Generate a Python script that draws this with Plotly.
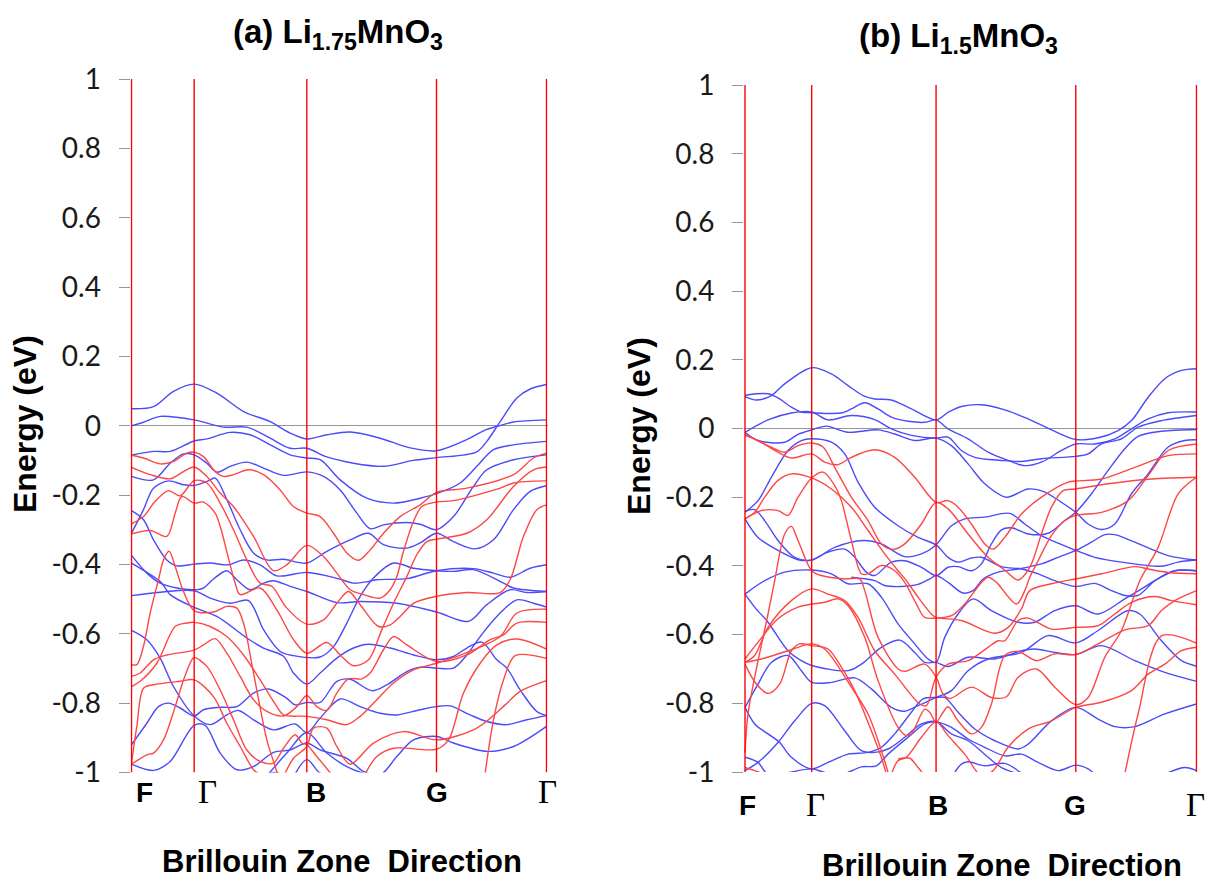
import plotly.graph_objects as go

# k-path positions of the high-symmetry points (arbitrary path units) and band energies (meV)
a_kpoints = [0, 188, 526, 915, 1245]
b_kpoints = [0, 200, 573, 992, 1354]
kpoint_labels = ["F", "Γ", "B", "G", "Γ"]
energy_ticks = [1, 0.8, 0.6, 0.4, 0.2, 0, -0.2, -0.4, -0.6, -0.8, -1]
energy_labels = ["1", "0.8", "0.6", "0.4", "0.2", "0", "-0.2", "-0.4", "-0.6", "-0.8", "-1"]

a_blue_1 = [(0,49),(66,55),(126,99),(188,120),(256,94),(336,41),(416,12),(476,-21),(526,-38),(586,-26),(656,-18),(746,-36),(836,-64),(915,-72),(1006,-40),(1062,-12),(1096,-2),(1146,11),(1245,17)]
a_blue_2 = [(0,0),(36,10),(86,27),(188,17),(276,-4),(346,-4),(416,-36),(476,-65),(526,-65),(586,-90),(666,-108),(756,-117),(846,-100),(915,-92),(1036,-75),(1066,-45),(1106,12),(1156,80),(1196,106),(1245,119)]
a_blue_3 = [(0,-85),(66,-74),(116,-74),(188,-44),(226,-38),(296,-19),(356,-26),(416,-55),(476,-84),(526,-93),(566,-98),(626,-156),(706,-209),(786,-223),(866,-209),(915,-196),(986,-165),(1036,-117),(1086,-69),(1146,-55),(1245,-45)]
a_blue_4 = [(0,-146),(66,-156),(116,-108),(156,-81),(188,-84),(226,-108),(256,-134),(296,-117),(346,-105),(396,-122),(456,-143),(526,-133),(576,-146),(626,-185),(676,-252),(716,-297),(756,-286),(826,-279),(866,-284),(915,-300),(966,-262),(1026,-175),(1066,-127),(1146,-98),(1245,-84)]
a_blue_5 = [(0,-310),(36,-242),(66,-180),(111,-159),(156,-170),(188,-172),(226,-161),(251,-151),(286,-213),(326,-300),(366,-367),(406,-387),(456,-385),(526,-396),(586,-362),(656,-329),(711,-310),(756,-343),(826,-353),(866,-338),(915,-310),(966,-334),(1031,-355),(1086,-329),(1146,-242),(1196,-189),(1245,-173)]
a_blue_6 = [(0,-245),(36,-271),(66,-329),(106,-387),(136,-404),(188,-399),(236,-396),(291,-401),(336,-387),(386,-401),(436,-433),(526,-423),(596,-435),(631,-444),(666,-454),(711,-449),(736,-444),(826,-441),(915,-418),(1026,-412),(1086,-425),(1136,-437),(1196,-411),(1245,-401)]
a_blue_7 = [(0,-490),(86,-480),(188,-476),(236,-497),(296,-512),(351,-504),(396,-588),(446,-651),(486,-663),(566,-667),(606,-637),(646,-569),(686,-492),(726,-439),(786,-396),(846,-411),(915,-418),(966,-420),(1026,-415),(1116,-454),(1146,-468),(1245,-478)]
a_blue_8 = [(0,-396),(66,-435),(91,-454),(116,-487),(188,-524),(256,-550),(346,-612),(396,-641),(456,-665),(486,-713),(526,-745),(566,-713),(616,-670),(666,-641),(711,-630),(776,-641),(846,-661),(915,-675),(966,-665),(1006,-641),(1051,-624),(1096,-675),(1126,-699),(1166,-762),(1216,-824),(1245,-836)]
a_blue_9 = [(0,-920),(46,-858),(81,-810),(111,-800),(146,-814),(188,-837),(216,-819),(266,-812),(316,-810),(366,-771),(411,-759),(466,-786),(491,-805),(526,-798),(566,-798),(616,-737),(656,-731),(721,-764),(766,-747),(826,-709),(866,-696),(915,-699),(966,-699),(1006,-661),(1046,-608),(1096,-550),(1156,-502),(1206,-512),(1245,-523)]
a_blue_10 = [(0,-590),(46,-617),(86,-670),(126,-752),(188,-837),(236,-862),(286,-834),(321,-821),(366,-848),(426,-877),(491,-860),(526,-885),(566,-843),(626,-788),(686,-810),(746,-829),(796,-834),(866,-819),(915,-810),(956,-808),(1016,-834),(1066,-853),(1126,-862),(1186,-848),(1245,-836)]
a_blue_11 = [(0,-976),(66,-994),(116,-968),(188,-864),(221,-864),(266,-944),(316,-992),(366,-983),(426,-942),(476,-935),(526,-915),(566,-935),(646,-959),(696,-997),(746,-1007),(796,-954),(846,-906),(915,-896),(966,-915),(1066,-939),(1146,-925),(1245,-867)]
a_blue_12 = [(396,-1021),(466,-944),(526,-885),(586,-944),(646,-983),(726,-1012)]
a_blue_13 = [(0,-374),(46,-425),(86,-454),(136,-468),(188,-473),(216,-468),(246,-442),(286,-418),(316,-444),(356,-473),(396,-454),(426,-447),(476,-463),(526,-478),(616,-510),(686,-507),(796,-512),(915,-537),(1011,-564),(1066,-516),(1136,-473),(1186,-481),(1245,-478)]
a_blue_14 = [(476,-1031),(526,-963),(566,-1002),(616,-1012)]
a_blue_15 = [(396,-1007),(431,-1000),(466,-1012)]

a_red_1 = [(0,-85),(36,-93),(86,-110),(126,-103),(166,-79),(188,-76),(216,-89),(251,-132),(276,-146),(306,-141),(351,-127),(396,-141),(446,-185),(486,-233),(526,-252),(566,-262),(606,-310),(646,-367),(681,-388),(716,-358),(756,-310),(806,-262),(866,-228),(915,-192),(1006,-180),(1146,-141),(1206,-93),(1245,-79)]
a_red_2 = [(0,-120),(56,-141),(116,-153),(156,-132),(188,-119),(226,-146),(266,-194),(306,-233),(366,-319),(426,-418),(466,-401),(526,-345),(576,-377),(616,-425),(656,-473),(696,-487),(746,-497),(776,-473),(796,-435),(816,-362),(846,-276),(871,-233),(915,-220),(966,-216),(1106,-180),(1146,-165),(1245,-159)]
a_red_3 = [(0,-283),(36,-262),(71,-218),(111,-187),(146,-202),(188,-158),(226,-165),(266,-223),(306,-300),(346,-387),(386,-454),(421,-463),(466,-526),(526,-572),(576,-560),(616,-512),(651,-478),(686,-516),(741,-579),(776,-574),(806,-550),(846,-512),(915,-492),(1006,-481),(1106,-481),(1136,-444),(1176,-319),(1216,-242),(1245,-228)]
a_red_4 = [(0,-312),(56,-302),(106,-319),(131,-252),(151,-204),(188,-223),(216,-220),(251,-252),(266,-290),(311,-454),(326,-487),(386,-468),(436,-531),(486,-617),(526,-656),(586,-625),(626,-661),(666,-692),(711,-675),(751,-588),(791,-502),(826,-435),(856,-372),(886,-334),(915,-327),(1006,-310),(1066,-271),(1146,-175),(1206,-127),(1245,-119)]
a_red_5 = [(0,-689),(16,-689),(36,-636),(56,-540),(81,-444),(96,-387),(113,-362),(131,-406),(156,-478),(188,-533),(246,-537),(286,-521),(316,-526),(336,-569),(366,-713),(406,-906),(426,-968),(441,-1012)]
a_red_6 = [(0,-723),(26,-713),(66,-675),(106,-661),(188,-647),(216,-632),(251,-614),(286,-656),(326,-723),(366,-790),(406,-824),(456,-837),(496,-810),(526,-778),(556,-810),(586,-821),(616,-771),(651,-730),(691,-730),(716,-713),(756,-646),(786,-608),(826,-632),(915,-680),(1006,-661),(1076,-617),(1116,-603),(1156,-569),(1245,-567)]
a_red_7 = [(0,-752),(26,-737),(76,-685),(131,-579),(166,-569),(188,-567),(236,-579),(286,-608),(336,-661),(386,-733),(436,-810),(456,-834),(526,-838),(586,-848),(646,-862),(686,-838),(736,-790),(786,-742),(846,-704),(915,-685),(996,-658),(1106,-608),(1156,-540),(1245,-529)]
a_red_8 = [(0,-973),(16,-867),(36,-757),(66,-747),(146,-737),(188,-733),(246,-781),(286,-858),(326,-925),(366,-992),(386,-1007)]
a_red_9 = [(0,-976),(46,-949),(66,-944),(96,-906),(131,-810),(156,-733),(181,-675),(188,-668),(226,-694),(266,-762),(306,-848),(346,-935),(386,-968),(426,-973),(456,-930),(491,-891),(511,-915),(526,-920),(556,-954),(606,-1012)]
a_red_10 = [(456,-1012),(486,-959),(526,-925),(546,-872),(586,-872),(616,-925),(656,-976),(726,-915),(816,-882),(915,-906),(1026,-877),(1071,-848),(1121,-805),(1166,-766),(1245,-735)]
a_red_11 = [(701,-1004),(736,-954),(786,-930),(915,-933),(951,-906),(996,-771),(1046,-685),(1096,-632),(1156,-615),(1245,-644)]
a_red_12 = [(1061,-1002),(1086,-848),(1116,-733),(1151,-663),(1245,-671)]

b_blue_1 = [(0,93),(34,83),(79,96),(119,130),(200,177),(259,159),(309,125),(354,96),(389,86),(439,83),(499,57),(573,25),(609,47),(649,64),(709,69),(779,54),(849,28),(919,-4),(992,-32),(1059,-27),(1119,-6),(1159,23),(1209,91),(1259,145),(1309,169),(1354,174)]
b_blue_2 = [(0,96),(34,101),(69,101),(99,89),(139,62),(169,48),(200,46),(289,45),(319,57),(359,75),(399,57),(439,33),(489,21),(539,18),(573,25),(609,-1),(669,-30),(729,-69),(789,-93),(839,-108),(889,-98),(949,-64),(992,-45),(1049,-45),(1109,-30),(1159,-1),(1209,28),(1269,46),(1354,48)]
b_blue_3 = [(0,-11),(69,25),(139,45),(200,48),(249,25),(319,38),(389,26),(439,-1),(499,-20),(573,-28),(609,-25),(649,-64),(689,-84),(769,-93),(829,-96),(889,-88),(992,-81),(1029,-74),(1069,-45),(1129,-30),(1179,4),(1249,23),(1354,38)]
b_blue_4 = [(0,-11),(39,-35),(119,-40),(159,-17),(200,-4),(244,7),(309,-11),(399,-4),(449,-16),(509,-35),(573,-28),(619,-50),(669,-103),(719,-161),(784,-200),(849,-176),(899,-185),(949,-215),(992,-244),(1029,-278),(1069,-294),(1109,-278),(1159,-190),(1209,-132),(1269,-54),(1319,-35),(1354,-33)]
b_blue_5 = [(0,-244),(39,-210),(79,-142),(129,-64),(169,-35),(200,-30),(259,-40),(299,-74),(339,-156),(389,-229),(459,-283),(519,-317),(573,-339),(609,-375),(639,-389),(679,-377),(709,-375),(769,-402),(829,-409),(879,-423),(929,-443),(992,-460),(1049,-451),(1099,-472),(1139,-486),(1179,-486),(1229,-443),(1289,-414),(1354,-414)]
b_blue_6 = [(0,-263),(39,-317),(99,-355),(159,-382),(200,-383),(249,-360),(299,-351),(329,-375),(364,-418),(389,-428),(439,-389),(479,-385),(529,-404),(573,-428),(609,-404),(639,-402),(679,-414),(709,-394),(739,-336),(769,-295),(799,-289),(849,-307),(909,-305),(959,-268),(992,-244),(1039,-190),(1089,-122),(1139,-59),(1179,-23),(1249,-8),(1354,-3)]
b_blue_7 = [(0,-241),(29,-236),(59,-268),(99,-326),(149,-375),(200,-383),(269,-346),(354,-326),(409,-336),(479,-373),(529,-365),(573,-339),(619,-283),(659,-263),(719,-258),(794,-247),(839,-278),(889,-312),(939,-334),(992,-355),(1049,-375),(1129,-389),(1249,-401),(1299,-389),(1354,-383)]
b_blue_8 = [(319,-433),(389,-443),(419,-457),(469,-460),(519,-454),(554,-438),(573,-428),(609,-448),(654,-479),(684,-472),(714,-438),(759,-418),(819,-409),(889,-394),(939,-375),(992,-355),(1039,-331),(1079,-309),(1109,-309),(1169,-331),(1269,-370),(1354,-383)]
b_blue_9 = [(0,-482),(59,-443),(119,-418),(200,-412),(259,-423),(309,-452),(369,-452),(409,-491),(459,-569),(509,-627),(549,-671),(573,-681),(599,-608),(639,-540),(684,-496),(739,-530),(819,-564),(869,-564),(929,-530),(992,-516),(1059,-540),(1139,-496),(1189,-467),(1229,-443),(1289,-414),(1354,-414)]
b_blue_10 = [(0,-482),(29,-520),(69,-564),(129,-647),(169,-676),(200,-690),(309,-705),(349,-686),(409,-637),(464,-616),(509,-652),(539,-681),(573,-681),(609,-693),(669,-666),(749,-671),(829,-647),(869,-642),(929,-652),(992,-658),(1069,-632),(1169,-676),(1259,-710),(1354,-736)]
b_blue_11 = [(0,-812),(39,-744),(79,-681),(129,-661),(169,-705),(200,-739),(259,-739),(329,-726),(379,-758),(439,-812),(479,-823),(519,-807),(573,-783),(619,-763),(669,-705),(729,-671),(829,-652),(909,-603),(992,-624),(1059,-588),(1149,-530),(1184,-540),(1249,-618),(1309,-676),(1354,-692)]
b_blue_12 = [(0,-812),(29,-860),(69,-889),(104,-914),(139,-957),(200,-991),(249,-972),(309,-948),(369,-943),(409,-928),(449,-889),(499,-826),(534,-787),(573,-783),(599,-783),(639,-826),(689,-875),(749,-909),(819,-933),(849,-919),(919,-851),(992,-812),(1059,-846),(1109,-868),(1169,-868),(1259,-831),(1354,-802)]
b_blue_13 = [(0,-957),(39,-972),(69,-1006),(200,-991),(239,-1001),(299,-1004),(349,-985),(394,-982),(429,-948),(489,-899),(539,-860),(573,-854),(619,-870),(669,-904),(719,-928),(779,-953),(829,-948),(879,-972),(939,-996),(992,-980),(1029,-991),(1059,-1016)]
b_blue_14 = [(0,-996),(39,-972),(99,-914),(149,-851),(200,-800),(239,-807),(299,-880),(349,-938),(389,-943),(429,-933),(479,-899),(529,-860),(573,-853),(619,-889),(669,-909),(729,-957),(769,-987),(839,-1011)]
b_blue_15 = [(629,-1001),(649,-977),(669,-970),(719,-982),(779,-975),(839,-1011)]
b_blue_16 = [(1259,-1006),(1319,-987),(1354,-996)]
b_blue_17 = [(969,-1011),(992,-1008),(1029,-1008)]

b_red_1 = [(0,-20),(39,-35),(99,-69),(139,-86),(200,-74),(239,-98),(279,-105),(319,-84),(389,-62),(449,-84),(509,-142),(573,-215),(609,-210),(639,-229),(679,-278),(719,-336),(744,-351),(779,-317),(829,-249),(889,-200),(969,-156),(992,-153),(1069,-147),(1169,-113),(1269,-79),(1354,-74)]
b_red_2 = [(0,-17),(69,-50),(119,-69),(159,-50),(200,-42),(234,-54),(269,-113),(319,-200),(369,-268),(409,-336),(444,-352),(479,-336),(529,-278),(573,-215),(609,-234),(669,-307),(729,-375),(779,-412),(819,-441),(854,-404),(889,-307),(919,-229),(954,-181),(992,-176),(1089,-161),(1219,-147),(1354,-142)]
b_red_3 = [(0,-263),(29,-244),(59,-200),(99,-151),(139,-132),(200,-144),(259,-176),(319,-229),(369,-297),(419,-365),(459,-414),(484,-443),(519,-491),(559,-540),(573,-550),(649,-559),(749,-596),(789,-579),(829,-525),(854,-472),(919,-452),(992,-438),(1069,-423),(1169,-402),(1209,-409),(1269,-419),(1354,-423)]
b_red_4 = [(0,-263),(49,-239),(99,-239),(129,-253),(159,-200),(200,-144),(234,-127),(269,-166),(289,-210),(319,-326),(349,-423),(369,-423),(409,-399),(449,-414),(479,-448),(514,-511),(539,-550),(573,-552),(619,-545),(659,-511),(709,-448),(729,-433),(754,-448),(814,-511),(839,-472),(854,-433),(879,-385),(919,-312),(959,-268),(992,-253),(1069,-244),(1149,-210),(1209,-137),(1269,-64),(1354,-45)]
b_red_5 = [(0,-943),(9,-831),(29,-724),(69,-540),(89,-443),(119,-307),(139,-285),(159,-326),(200,-414),(229,-428),(299,-438),(344,-438),(359,-472),(399,-608),(459,-700),(479,-707),(539,-686),(573,-724),(594,-773),(614,-786),(679,-753),(739,-783),(784,-781),(819,-724),(874,-700),(929,-753),(992,-804),(1029,-783),(1079,-666),(1129,-588),(1184,-443),(1239,-346),(1299,-190),(1354,-142)]
b_red_6 = [(0,-681),(29,-661),(69,-579),(139,-501),(200,-467),(249,-482),(299,-501),(339,-550),(389,-647),(449,-715),(524,-802),(544,-807),(573,-724),(609,-686),(669,-676),(729,-637),(759,-618),(779,-618),(819,-559),(849,-552),(919,-584),(992,-579),(1059,-574),(1109,-540),(1159,-506),(1229,-489),(1279,-501),(1354,-513)]
b_red_7 = [(0,-671),(39,-622),(99,-554),(159,-520),(200,-511),(239,-506),(279,-496),(309,-516),(359,-608),(399,-734),(459,-870),(484,-894),(499,-889),(539,-817),(554,-826),(573,-855),(594,-826),(609,-810),(639,-851),(679,-889),(709,-870),(739,-802),(779,-661),(819,-649),(874,-676),(929,-656),(992,-658),(1059,-627),(1139,-586),(1209,-574),(1249,-530),(1289,-501),(1354,-472)]
b_red_8 = [(0,-681),(49,-671),(129,-647),(200,-627),(239,-642),(319,-753),(369,-831),(409,-938),(429,-1001)]
b_red_9 = [(0,-686),(34,-744),(69,-771),(104,-744),(139,-647),(164,-627),(200,-632),(249,-642),(289,-695),(329,-763),(379,-880),(409,-958),(424,-1006)]
b_red_10 = [(439,-1006),(459,-967),(484,-957),(529,-899),(573,-854),(609,-894),(659,-948),(709,-1011),(744,-996),(789,-928),(849,-875),(919,-851),(992,-812),(1069,-797),(1159,-763),(1209,-715),(1259,-686),(1309,-647),(1354,-637)]
b_red_11 = [(1139,-1006),(1179,-831),(1249,-604),(1354,-625)]
b_red_12 = [(459,-962),(494,-960),(519,-987),(539,-1011)]
b_red_13 = [(0,-987),(29,-996),(69,-1011)]

a_blue = [a_blue_1, a_blue_2, a_blue_3, a_blue_4, a_blue_5, a_blue_6, a_blue_7, a_blue_8, a_blue_9, a_blue_10, a_blue_11, a_blue_12, a_blue_13, a_blue_14, a_blue_15]
a_red = [a_red_1, a_red_2, a_red_3, a_red_4, a_red_5, a_red_6, a_red_7, a_red_8, a_red_9, a_red_10, a_red_11, a_red_12]
b_blue = [b_blue_1, b_blue_2, b_blue_3, b_blue_4, b_blue_5, b_blue_6, b_blue_7, b_blue_8, b_blue_9, b_blue_10, b_blue_11, b_blue_12, b_blue_13, b_blue_14, b_blue_15, b_blue_16, b_blue_17]
b_red = [b_red_1, b_red_2, b_red_3, b_red_4, b_red_5, b_red_6, b_red_7, b_red_8, b_red_9, b_red_10, b_red_11, b_red_12, b_red_13]

W, H = 1206, 882
BLUE = "rgb(75,75,250)"
RED = "rgb(255,70,70)"
TICK_FONT = "Lato, 'Open Sans', sans-serif"
BOLD_FONT = "'Liberation Sans', Arial, sans-serif"
SERIF = "'Liberation Serif', serif"
px = lambda x: x / W
py = lambda y: 1 - y / H

fig = go.Figure()

def panel(xname, yname, blue, red, kpts):
    for band, color in [(b, BLUE) for b in blue] + [(r, RED) for r in red]:
        fig.add_trace(go.Scatter(
            x=[p[0] for p in band], y=[p[1] / 1000 for p in band], mode="lines",
            line=dict(color=color, width=1.4, shape="spline", smoothing=0.9),
            xaxis=xname, yaxis=yname, showlegend=False, hoverinfo="skip"))
    for k in kpts:
        fig.add_trace(go.Scatter(
            x=[k, k], y=[-1, 1], mode="lines", line=dict(color="rgb(255,0,0)", width=1.4),
            xaxis=xname, yaxis=yname, showlegend=False, hoverinfo="skip"))

panel("x", "y", a_blue, a_red, a_kpoints)
panel("x2", "y2", b_blue, b_red, b_kpoints)

def yaxis_style(top, bottom, anchor):
    return dict(domain=[py(bottom), py(top)], range=[-1, 1], anchor=anchor, automargin=False,
                tickmode="array", tickvals=energy_ticks, ticktext=energy_labels,
                ticks="outside", ticklen=11, tickcolor="rgb(150,150,150)", tickwidth=1,
                ticklabelstandoff=12,
                tickfont=dict(family=TICK_FONT, size=28, color="#1a1a1a"),
                showgrid=False, showline=False, zeroline=True,
                zerolinecolor="rgb(150,150,150)", zerolinewidth=1)

# one extra pixel (3 path units) on each side keeps the end lines unclipped
def xaxis_style(left, right, end, anchor):
    return dict(domain=[px(left - 1), px(right + 1)], range=[-3, end + 3], anchor=anchor, automargin=False,
                showticklabels=False, ticks="", showgrid=False, showline=False, zeroline=False)

fig.update_layout(
    width=W, height=H, margin=dict(l=0, r=0, t=0, b=0),
    paper_bgcolor="white", plot_bgcolor="white", showlegend=False,
    xaxis=xaxis_style(131.5, 546.5, a_kpoints[-1], "y"),
    yaxis=yaxis_style(79, 772.5, "x"),
    xaxis2=xaxis_style(745, 1196.5, b_kpoints[-1], "y2"),
    yaxis2=yaxis_style(85, 772, "x2"),
)

def text(s, x, y, size=31, bold=True, angle=0, family=BOLD_FONT):
    t = f"<b>{s}</b>" if bold else s
    fig.add_annotation(text=t, x=px(x), y=py(y), xref="paper", yref="paper", showarrow=False,
                       xanchor="center", yanchor="middle", textangle=angle,
                       font=dict(family=family, size=size, color="black"))

text("(a) Li<sub>1.75</sub>MnO<sub>3</sub>", 338, 34, size=33)
text("(b) Li<sub>1.5</sub>MnO<sub>3</sub>", 958, 38, size=33)
text("Energy (eV)", 25, 424, size=32, angle=-90)
text("Energy (eV)", 639, 426, size=32, angle=-90)
text("Brillouin Zone  Direction", 342, 861)
text("Brillouin Zone  Direction", 1002, 865)

for xs, y in (([144, 207, 315.5, 437, 547], 792), ([747, 815, 938, 1075, 1195], 805)):
    for label, x in zip(kpoint_labels, xs):
        if label == "Γ":
            text(label, x, y, size=33, bold=False, family=SERIF)
        else:
            text(label, x, y, size=28)

fig.write_html("out.html", config=dict(displayModeBar=False),
               post_script="document.body.style.margin='0';")
